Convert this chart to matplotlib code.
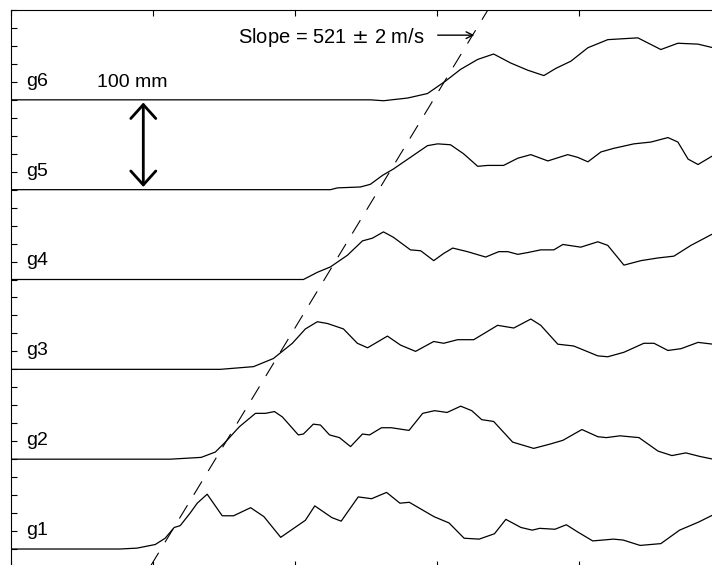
import numpy as np
import matplotlib.pyplot as plt

plt.rcParams['font.family'] = ['Liberation Sans', 'DejaVu Sans']

# gauge records: time (ms) and displacement above each gauge's baseline (mm)
t_g1 = [0.0, 0.384, 0.444, 0.508, 0.543, 0.575, 0.596, 0.631, 0.656, 0.691, 0.744, 0.784, 0.844, 0.891, 0.950,
        1.037, 1.070, 1.130, 1.163, 1.223, 1.270, 1.323, 1.370, 1.403, 1.490, 1.543, 1.596, 1.649, 1.703, 1.743,
        1.796, 1.836, 1.862, 1.916, 1.956, 1.996, 2.049, 2.122, 2.156, 2.216, 2.289, 2.355, 2.422, 2.473]
d_g1 = [0, 0, 1, 5, 12, 24, 26, 40, 51, 61, 37, 37, 46, 36, 13,
        32, 48, 35, 31, 58, 56, 63, 51, 52, 36, 29, 12, 11, 17, 33,
        24, 21, 23, 22, 27, 19, 9, 11, 10, 4, 6, 21, 30, 38]

t_g2 = [0.0, 0.561, 0.670, 0.720, 0.755, 0.804, 0.861, 0.896, 0.928, 0.956, 1.012, 1.030, 1.065, 1.090, 1.122,
        1.157, 1.196, 1.238, 1.263, 1.305, 1.340, 1.402, 1.450, 1.492, 1.536, 1.584, 1.623, 1.658, 1.700, 1.767,
        1.841, 1.901, 1.944, 2.011, 2.067, 2.097, 2.145, 2.212, 2.279, 2.328, 2.377, 2.427, 2.473]
d_g2 = [0, 0, 2, 8, 19, 36, 51, 51, 53, 47, 27, 28, 39, 38, 27,
        24, 14, 28, 27, 35, 35, 32, 51, 54, 52, 59, 54, 44, 42, 19,
        12, 17, 21, 33, 25, 24, 26, 24, 9, 4, 7, 3, 0]

t_g3 = [0.0, 0.737, 0.854, 0.924, 0.991, 1.037, 1.079, 1.115, 1.171, 1.220, 1.256, 1.326, 1.372, 1.425, 1.489,
        1.524, 1.573, 1.630, 1.714, 1.771, 1.831, 1.866, 1.926, 1.982, 2.067, 2.102, 2.159, 2.229, 2.265, 2.314,
        2.360, 2.420, 2.473]
d_g3 = [0, 0, 3, 12, 29, 45, 53, 51, 45, 29, 24, 37, 27, 20, 31,
        29, 33, 33, 49, 46, 56, 49, 28, 26, 15, 14, 19, 29, 29, 21,
        23, 30, 28]

t_g4 = [0.0, 1.030, 1.079, 1.125, 1.185, 1.238, 1.273, 1.312, 1.347, 1.407, 1.443, 1.489, 1.524, 1.556, 1.608,
        1.672, 1.718, 1.750, 1.785, 1.820, 1.866, 1.912, 1.944, 2.007, 2.067, 2.102, 2.159, 2.219, 2.279, 2.335,
        2.395, 2.473]
d_g4 = [0, 0, 8, 14, 27, 43, 46, 53, 47, 33, 32, 21, 29, 35, 31,
        25, 31, 31, 28, 30, 33, 33, 39, 36, 42, 38, 16, 21, 24, 26,
        38, 51]

t_g5 = [0.0, 1.125, 1.150, 1.231, 1.266, 1.309, 1.347, 1.407, 1.467, 1.503, 1.548, 1.594, 1.644, 1.679, 1.735,
        1.785, 1.831, 1.891, 1.961, 1.996, 2.032, 2.078, 2.123, 2.194, 2.254, 2.314, 2.349, 2.385, 2.420, 2.473]
d_g5 = [0, 0, 2, 3, 6, 16, 23, 36, 49, 51, 50, 40, 26, 27, 27,
        35, 39, 32, 39, 36, 31, 42, 46, 51, 53, 58, 53, 34, 28, 38]

t_g6 = [0.0, 1.266, 1.312, 1.397, 1.467, 1.531, 1.584, 1.644, 1.700, 1.760, 1.820, 1.877, 1.919, 1.972, 2.032,
        2.102, 2.208, 2.289, 2.349, 2.420, 2.473]
d_g6 = [0, 0, -1, 2, 7, 21, 34, 45, 51, 41, 33, 27, 35, 43, 58,
        67, 69, 56, 63, 62, 58]

gauge_names = ['g1', 'g2', 'g3', 'g4', 'g5', 'g6']
gauge_spacing = 100  # mm between gauges
slope = 521          # m/s == mm/ms
t_front = 0.528      # ms where the fit line crosses g1

times = [t_g1, t_g2, t_g3, t_g4, t_g5, t_g6]
disps = [d_g1, d_g2, d_g3, d_g4, d_g5, d_g6]

fig = plt.figure(figsize=(7.12, 5.65), dpi=100)
ax = fig.add_axes([11 / 712, -0.0035, 709.75 / 712, 0.9858])

for i, (t, d) in enumerate(zip(times, disps)):
    base = i * gauge_spacing
    ax.plot(t, np.array(d) + base, color='k', lw=0.9)
    ax.text(0.053, base + 15.6, gauge_names[i], fontsize=14, va='baseline')

# wave front fit
y_line = np.array([-20, 600])
ax.plot(t_front + y_line / slope, y_line, color='k', lw=0.8, dashes=(14, 11))

ax.text(0.801, 563.5, 'Slope = 521 $\\pm$ 2 m/s', fontsize=14.5, va='baseline')
ax.annotate('', xy=(1.632, 572), xytext=(1.503, 572),
            arrowprops=dict(arrowstyle='->', lw=1, color='k', mutation_scale=12, shrinkA=0, shrinkB=0))

ax.text(0.303, 514.5, '100 mm', fontsize=14, va='baseline')
ax.annotate('', xy=(0.466, 497), xytext=(0.466, 403),
            arrowprops=dict(arrowstyle='<->,head_length=0.5,head_width=0.45', lw=2, color='k',
                            mutation_scale=20, shrinkA=0, shrinkB=0))

ax.set_xlim(0, 2.5)
ax.set_ylim(-20, 600)
ax.set_xticks(np.arange(0, 2.51, 0.5))
ax.set_yticks(np.arange(-20, 601, 20))
ax.tick_params(direction='in', length=4.6, width=0.8, labelbottom=False, labelleft=False,
               top=True, bottom=True, left=True, right=False)
ax.spines['right'].set_visible(False)
for s in ax.spines.values():
    s.set_linewidth(0.8)

fig.savefig('out.png', dpi=100)
